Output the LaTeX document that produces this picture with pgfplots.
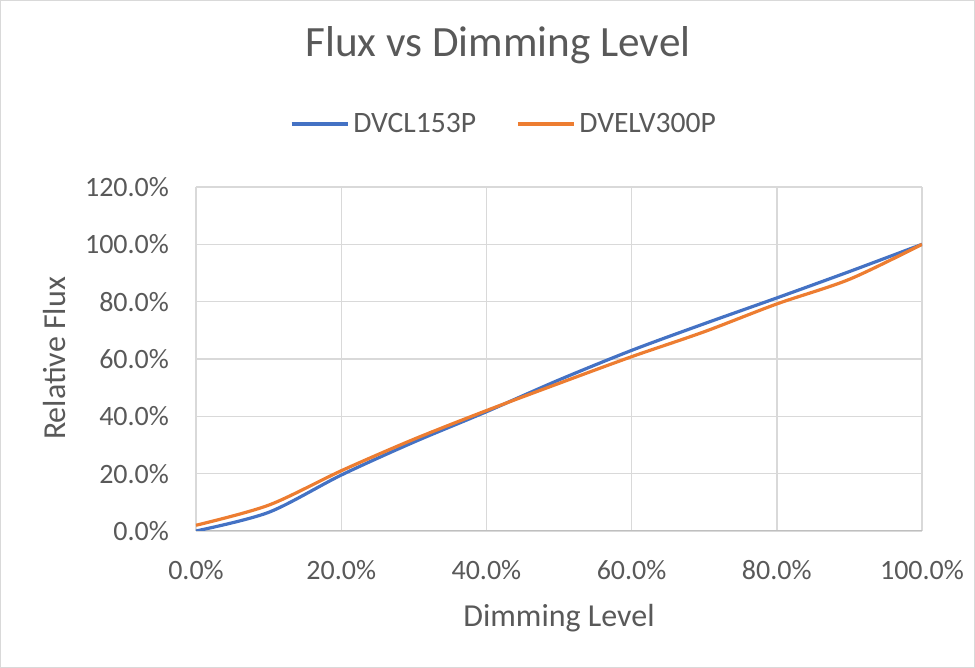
\documentclass[border=0pt]{standalone}
\usepackage{fontspec}
\setmainfont{Carlito}
\usepackage{pgfplots}
\pgfplotsset{compat=1.18}
\definecolor{txt}{HTML}{595959}
\definecolor{gridc}{HTML}{D9D9D9}
\definecolor{axc}{HTML}{BFBFBF}
\definecolor{cblue}{HTML}{4472C4}
\definecolor{corange}{HTML}{ED7D31}
\begin{document}
\begin{tikzpicture}[x=1pt,y=1pt]
\draw[draw=gridc,line width=0.6pt] (0.3,0.3) rectangle (487.2,333.7);
\begin{axis}[
  at={(98pt,68.5pt)}, anchor=origin,
  scale only axis, width=363pt, height=172pt,
  xmin=0, xmax=100, ymin=0, ymax=120,
  xtick={0,20,...,100}, ytick={0,20,...,120},
  grid=major, grid style={gridc, line width=0.7pt},
  axis line style={draw=none},
  major tick length=0pt,
  tick label style={font=\fontsize{14}{16}\selectfont, text=txt},
  /pgf/number format/assume math mode=true,
  xticklabel={\pgfmathprintnumber[fixed,fixed zerofill,precision=1]{\tick}\%},
  yticklabel={\pgfmathprintnumber[fixed,fixed zerofill,precision=1]{\tick}\%},
  yticklabel style={xshift=-10pt},
  xticklabel style={yshift=-11pt},
  legend columns=2,
  legend style={draw=none, fill=none, at={(0.4256,1.183)}, anchor=center,
    font=\fontsize{14.8}{17}\selectfont, text=txt,
    /tikz/every even column/.append style={column sep=18pt}},
  legend image code/.code={\draw[#1] (0pt,0pt) -- (28pt,0pt);},
]
\draw[axc, line width=0.8pt] (axis cs:0,0) -- (axis cs:100,0);
\addplot[cblue, line width=1.6pt, smooth, tension=0.5] coordinates {
(0,0) (10,6.5) (20,19.5) (30,31) (40,41.6) (50,52.7) (60,63) (70,72.3) (80,81.3) (90,90.5) (100,100)};
\addlegendentry{DVCL153P}
\addplot[corange, line width=1.6pt, smooth, tension=0.5] coordinates {
(0,2) (10,9) (20,21) (30,32) (40,42) (50,51.5) (60,60.8) (70,69.5) (80,79.2) (90,87.8) (100,100)};
\addlegendentry{DVELV300P}
\end{axis}
\node[text=txt, font=\fontsize{21.6}{26}\selectfont] at (249pt,311.5pt) {Flux vs Dimming Level};
\node[text=txt, font=\fontsize{16}{19}\selectfont] at (279.5pt,25pt) {Dimming Level};
\node[text=txt, font=\fontsize{16}{19}\selectfont, rotate=90] at (27.5pt,154.75pt) {Relative Flux};
\end{tikzpicture}
\end{document}
